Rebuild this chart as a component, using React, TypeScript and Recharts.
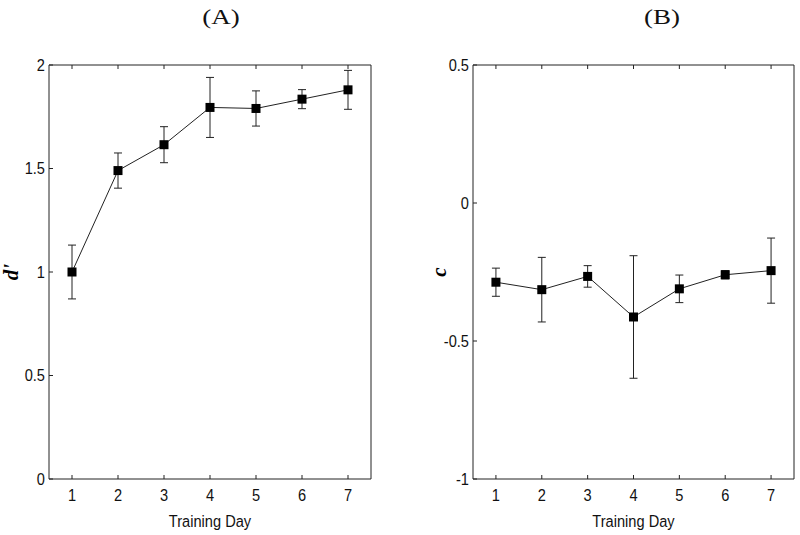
import React from "react";
import { LineChart, Line, XAxis, YAxis, ErrorBar } from "recharts";

const days = [1, 2, 3, 4, 5, 6, 7];
const dPrime = [1.0, 1.49, 1.615, 1.795, 1.79, 1.835, 1.88];
const dPrimeErr = [0.13, 0.085, 0.087, 0.145, 0.085, 0.046, 0.094];
const cValues = [-0.287, -0.314, -0.266, -0.413, -0.311, -0.26, -0.245];
const cErr = [0.051, 0.117, 0.039, 0.222, 0.05, 0.015, 0.118];
const xTicks = [1, 2, 3, 4, 5, 6, 7];
const yTicksA = [0, 0.5, 1, 1.5, 2];
const yTicksB = [-1, -0.5, 0, 0.5];
const xTitle = "Training Day";

const dataA = days.map((d, i) => ({ day: d, v: dPrime[i], err: dPrimeErr[i] }));
const dataB = days.map((d, i) => ({ day: d, v: cValues[i], err: cErr[i] }));

const FONT = "'Liberation Sans', Arial, Helvetica, sans-serif";
const FRAME = "#222";

const NarrowText = (p: { x: number; y: number; anchor: string; size: number; children: any }) => (
  <text
    transform={`translate(${p.x},${p.y}) scale(0.86,1)`}
    x={0}
    y={0}
    textAnchor={p.anchor as any}
    dominantBaseline="central"
    fontFamily={FONT}
    fontSize={p.size}
    fill="#111"
  >
    {p.children}
  </text>
);

const BottomTick = (props: any) => {
  const { x, y, payload } = props;
  return (
    <g>
      <line x1={x} y1={y} x2={x} y2={y - 4} stroke={FRAME} strokeWidth={1} />
      <NarrowText x={x} y={y + 16} anchor="middle" size={17}>
        {payload.value}
      </NarrowText>
    </g>
  );
};
const TopTick = (props: any) => {
  const { x, y } = props;
  return <line x1={x} y1={y} x2={x} y2={y + 4} stroke={FRAME} strokeWidth={1} />;
};
const LeftTick = (props: any) => {
  const { x, y, payload } = props;
  return (
    <g>
      <line x1={x} y1={y} x2={x + 4} y2={y} stroke={FRAME} strokeWidth={1} />
      <NarrowText x={x - 4} y={y} anchor="end" size={17}>
        {payload.value}
      </NarrowText>
    </g>
  );
};
const RightTick = (props: any) => {
  const { x, y } = props;
  return <line x1={x} y1={y} x2={x - 4} y2={y} stroke={FRAME} strokeWidth={1} />;
};

const SquareDot = (props: any) => {
  const { cx, cy, index } = props;
  if (cx == null || cy == null) return <g key={index} />;
  return <rect key={index} x={cx - 4.5} y={cy - 4.5} width={9} height={9} fill="#000" />;
};

const yLabel = (text: string, dx: number) => (props: any) => {
  const vb = props.viewBox || {};
  const cx = vb.x + dx;
  const cy = vb.y + vb.height / 2;
  return (
    <text
      x={cx}
      y={cy}
      transform={`rotate(-90, ${cx}, ${cy})`}
      textAnchor="middle"
      dominantBaseline="central"
      fontFamily="'Liberation Serif', 'DejaVu Serif', serif"
      fontStyle="italic"
      fontWeight="bold"
      fontSize={21}
      fill="#000"
    >
      {text}
    </text>
  );
};

const xLabel = (props: any) => {
  const vb = props.viewBox || {};
  return (
    <NarrowText x={vb.x + vb.width / 2} y={vb.y + 42} anchor="middle" size={17}>
      {xTitle}
    </NarrowText>
  );
};

function Panel(props: {
  data: any[];
  domain: [number, number];
  yTicks: number[];
  margin: any;
  label: string;
  labelDx: number;
}) {
  const { data, domain, yTicks, margin, label, labelDx } = props;
  return (
    <LineChart width={400} height={535} data={data} margin={margin}>
      <XAxis
        dataKey="day"
        type="number"
        domain={[0.5, 7.5]}
        ticks={xTicks}
        tickSize={0}
        tickMargin={0}
        height={1}
        axisLine={{ stroke: FRAME }}
        tickLine={false}
        tick={<BottomTick />}
        interval={0}
        label={{ content: xLabel } as any}
      />
      <XAxis
        xAxisId="top"
        orientation="top"
        dataKey="day"
        type="number"
        domain={[0.5, 7.5]}
        ticks={xTicks}
        tickSize={0}
        tickMargin={0}
        height={1}
        axisLine={{ stroke: FRAME }}
        tickLine={false}
        tick={<TopTick />}
        interval={0}
      />
      <YAxis
        type="number"
        domain={domain}
        ticks={yTicks}
        width={1}
        tickSize={0}
        tickMargin={0}
        axisLine={{ stroke: FRAME }}
        tickLine={false}
        tick={<LeftTick />}
        interval={0}
        label={{ content: yLabel(label, labelDx) } as any}
      />
      <YAxis
        yAxisId="r"
        orientation="right"
        type="number"
        domain={domain}
        ticks={yTicks}
        width={1}
        tickSize={0}
        tickMargin={0}
        axisLine={{ stroke: FRAME }}
        tickLine={false}
        tick={<RightTick />}
        interval={0}
      />
      <Line
        dataKey="v"
        stroke="#222"
        strokeWidth={1}
        dot={<SquareDot />}
        activeDot={false}
        isAnimationActive={false}
      >
        <ErrorBar dataKey="err" direction="y" width={4} stroke="#222" strokeWidth={1} isAnimationActive={false} />
      </Line>
    </LineChart>
  );
}

const titleStyle = (left: number): React.CSSProperties => ({
  position: "absolute",
  left: left - 40,
  width: 80,
  top: 4,
  textAlign: "center",
  fontFamily: "'Liberation Serif', 'DejaVu Serif', serif",
  fontSize: 20,
  lineHeight: "26px",
  color: "#111",
  transform: "scaleX(1.35)",
});

export default function App() {
  return (
    <div style={{ position: "absolute", left: 0, top: 0, width: 800, height: 535, background: "#fff" }}>
      <div style={titleStyle(221)}>(A)</div>
      <div style={titleStyle(662)}>(B)</div>
      <div style={{ position: "absolute", left: 0, top: 0 }}>
        <Panel
          data={dataA}
          domain={[0, 2]}
          yTicks={yTicksA}
          margin={{ top: 64, right: 28, bottom: 55, left: 48 }}
          label="d'"
          labelDx={-37}
        />
      </div>
      <div style={{ position: "absolute", left: 400, top: 0 }}>
        <Panel
          data={dataB}
          domain={[-1, 0.5]}
          yTicks={yTicksB}
          margin={{ top: 64, right: 5, bottom: 55, left: 72 }}
          label="c"
          labelDx={-33}
        />
      </div>
    </div>
  );
}
